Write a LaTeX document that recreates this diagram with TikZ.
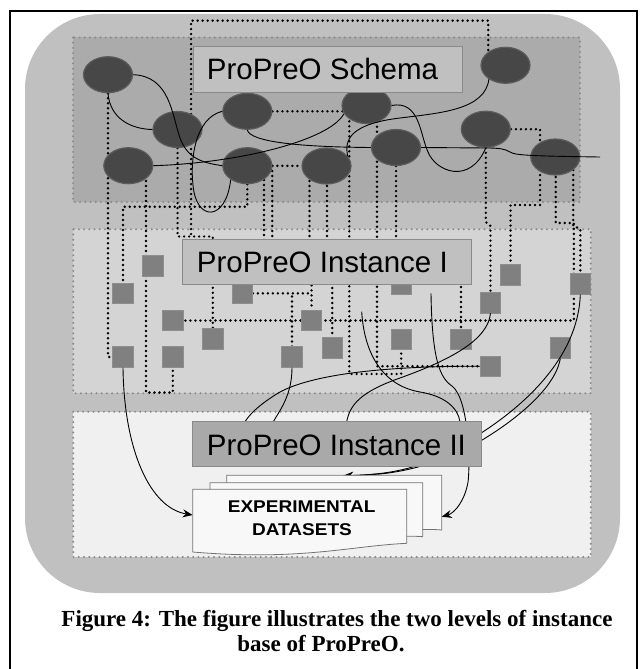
\documentclass[tikz,border=0pt]{standalone}
\usepackage{fontspec}
\setmainfont{Liberation Serif}
\setsansfont{Liberation Sans}
\usetikzlibrary{shapes.geometric,arrows.meta,calc}
\pgfdeclarelayer{bg}
\pgfdeclarelayer{dots}
\pgfdeclarelayer{curves}
\pgfdeclarelayer{top}
\pgfsetlayers{bg,dots,main,curves,top}
\definecolor{outerg}{HTML}{C0C0C0}
\definecolor{schemag}{HTML}{ABABAB}
\definecolor{insta}{HTML}{D4D4D4}
\definecolor{instb}{HTML}{F0F0F0}
\definecolor{ellg}{HTML}{474747}
\definecolor{ellrim}{HTML}{5C5C5C}
\definecolor{sqg}{HTML}{808080}
\definecolor{sqrim}{HTML}{8E8E8E}
\definecolor{labg}{HTML}{C0C0C0}
\definecolor{labgb}{HTML}{A9A9A9}
\definecolor{rimg}{HTML}{8A8A8A}
\definecolor{pageg}{HTML}{F8F8F8}
\begin{document}
\begin{tikzpicture}[x=1pt,y=-1pt,
 ell/.style={ellipse, fill=ellg, draw=ellrim, line width=1.2pt, minimum width=49pt, minimum height=36pt, inner sep=0pt},
 sq/.style={rectangle, fill=sqg, draw=sqrim, line width=0.6pt, minimum size=20.5pt, inner sep=0pt},
 layerbox/.style={draw=rimg, line width=2.2pt, dash pattern=on 0pt off 5.2pt, line cap=round},
 dl/.style={black, line width=2.7pt, dash pattern=on 0pt off 5pt, line cap=round},
 cv/.style={black, line width=0.9pt},
 labbox/.style={rectangle, draw=rimg, line width=1pt, inner sep=0pt, minimum height=45pt},
 labtext/.style={font=\sffamily\fontsize{29.5}{30}\selectfont, inner sep=0pt},
 dstext/.style={font=\sffamily\bfseries\fontsize{17}{20}\selectfont, inner sep=0pt},
 captext/.style={font=\bfseries\fontsize{23}{26}\selectfont, inner sep=0pt},
 tip/.style={-{Stealth[length=10pt,width=8pt]}},
 docpage/.style={fill=pageg, draw=black!55, line width=0.8pt}
]
\useasboundingbox (0,0) rectangle (642,669);

\begin{pgfonlayer}{bg}
\fill[outerg, rounded corners=75pt] (25,14) rectangle (620,593);
\path[fill=schemag, layerbox] (73,37.5) rectangle (580,202);
\path[fill=insta, layerbox] (73.3,229.3) rectangle (590.7,393.3);
\path[fill=instb, layerbox] (73.3,411.7) rectangle (590.7,557);
\draw[line width=2pt] (9.5,669) -- (9.5,11.5) -- (636.5,11.5) -- (636.5,669);
\end{pgfonlayer}

% schema ellipses
\node[ell] (e1) at (108,74.7) {};
\node[ell] (e2) at (177.5,129.5) {};
\node[ell] (e3) at (247.3,111.3) {};
\node[ell] (e4) at (128.3,165.7) {};
\node[ell] (e5) at (247.3,165.7) {};
\node[ell] (e6) at (326.5,166) {};
\node[ell] (e7) at (366.5,105.5) {};
\node[ell] (e8) at (505.5,65.3) {};
\node[ell] (e9) at (485.8,129.2) {};
\node[ell] (e10) at (396,147.5) {};
\node[ell] (e11) at (555.3,157) {};

% instance squares
\node[sq] (s1) at (153,265.8) {};
\node[sq] (s2) at (123,293.3) {};
\node[sq] (s3) at (242.3,293.3) {};
\node[sq] (s4) at (172.8,320.5) {};
\node[sq] (s5) at (212.8,339) {};
\node[sq] (s6) at (311.5,320.5) {};
\node[sq] (s7) at (123,357) {};
\node[sq] (s8) at (172.8,357) {};
\node[sq] (s9) at (292,357) {};
\node[sq] (s11) at (332.2,348) {};
\node[sq] (s12) at (401.2,284) {};
\node[sq] (s13) at (401.2,339.2) {};
\node[sq] (s14) at (461,339.2) {};
\node[sq] (s15) at (490.5,302.7) {};
\node[sq] (s16) at (510.5,275) {};
\node[sq] (s17) at (580.3,284) {};
\node[sq] (s18) at (560.3,348) {};
\node[sq] (s19) at (490.5,366.2) {};

\coordinate (c6end) at (600,157);
\coordinate (k5s) at (361.7,311.7);
\coordinate (k6s) at (431,293.3);
\coordinate (i2a) at (273.3,421.7);
\coordinate (i2b) at (245,421.7);
\coordinate (i2c) at (346.7,421.7);
\coordinate (i2d) at (460,421.7);
\coordinate (dsl) at (192.7,515);
\coordinate (dsr) at (441.7,516.7);
\coordinate (dst) at (343.3,475.6);

% dotted links
\begin{pgfonlayer}{dots}
\draw[dl] (e1) -- (e1 |- s7) -- (s7);
\draw[dl] (e5) -- (e5 |- 0,206.7) -- (s2 |- 0,206.7) -- (s2);
\draw[dl] (146,166) -- (146,392.5) -- (s8 |- 0,392.5) -- (s8);
\draw[dl] (e2) -- (e2 |- 0,236.5) -- (s5 |- 0,236.5) -- (s5);
\draw[dl] (488.3,65) -- (488.3,20.7) -- (191,20.7) -- (191,236.5);
\draw[dl] (555.7,157) -- (555.7,223) -- (573.8,223) -- (573.8,320.5) -- (s4);
\draw[dl] (573.3,160) -- (573.3,226) -- (580.3,229) -- (s17);
\draw[dl] (e9) -- (540,129.2) -- (540,205) -- (510.5,205) -- (s16);
\draw[dl] (e9) -- (485.8,222) -- (490.5,226) -- (s15);
\draw[dl] (e10) -- (396,262) -- (s12);
\draw[dl] (e3) -- (377,111.3) -- (377,366.2) -- (s19);
\draw[dl] (349.3,111.3) -- (349.3,374) -- (401.2,374) -- (s13);
\draw[dl] (327,166) -- (327,260) -- (332.2,263) -- (s11);
\draw[dl] (309.5,166) -- (309.5,262) -- (311.5,265) -- (s6);
\draw[dl] (s3) -- (311.5,293.3);
\draw[dl] (s9) -- (292,293.3);
\draw[dl] (e5) -- (e6);
\draw[dl] (264,170) -- (264,250);
\draw[dl] (272.3,166) -- (272.3,250);
\draw[dl] (461,262) -- (s14);
\end{pgfonlayer}

% solid curves
\begin{pgfonlayer}{curves}
\draw[cv] (e1.east) .. controls (170,76) and (172,115) .. (180,138) .. controls (188,160) and (205,163) .. (e5.west);
\draw[cv] (e1.south) .. controls (110,118) and (130,129) .. (e2.west);
\draw[cv] (e3.west) .. controls (195,118) and (190,160) .. (193,185) .. controls (196,222) and (226,222) .. (e5.220);
\draw[cv] (e4.east) .. controls (240,163) and (330,140) .. (e7.200);
\draw[cv] (e3.south) .. controls (250,142) and (300,147) .. (e10.west);
\draw[cv] (e10.east) -- (486,148) .. controls (500,148) and (505,149) .. (510,152) .. controls (515,155) and (525,156) .. (c6end);
\draw[cv] (e7.east) .. controls (420,100) and (420,135) .. (428,152) .. controls (436,172) and (470,185) .. (e9.south);
\draw[cv] (e8.220) .. controls (485,110) and (440,113) .. (400,118) .. controls (350,124) and (344,140) .. (e6.25);

\draw[cv,tip] (s7.south) .. controls (124,450) and (150,508) .. (dsl);
\draw[cv] (s9.south) .. controls (292,395) and (280,410) .. (i2a);
\draw[cv] (s19.west) .. controls (400,366) and (310,372) .. (275,395) .. controls (258,406) and (250,414) .. (i2b);
\draw[cv] (s15.south) .. controls (488,340) and (450,360) .. (400,378) .. controls (360,392) and (350,405) .. (i2c);
\draw[cv] (k5s) .. controls (364,350) and (380,385) .. (420,392) .. controls (445,396) and (458,408) .. (i2d);
\draw[cv,tip] (k6s) .. controls (432,360) and (440,378) .. (452,386) .. controls (470,400) and (470,470) .. (468,482) .. controls (465,500) and (455,513) .. (dsr);
\draw[cv,tip] (s17.south) .. controls (578,360) and (520,410) .. (470,440) .. controls (440,460) and (410,470) .. (380,473.5) .. controls (365,475) and (355,475.6) .. (dst);
\draw[cv] (s18.south) .. controls (555,390) and (510,425) .. (470,447) .. controls (440,462) and (410,471) .. (380,474) .. controls (365,475) and (355,475.6) .. (dst);
\end{pgfonlayer}

% labels and datasets
\begin{pgfonlayer}{top}
\node[labbox, fill=labg, minimum width=269pt] (lschema) at (327.5,69.5) {};
\node[labtext, anchor=base west] (tschema) at (206.7,80) {ProPreO Schema};
\node[labbox, fill=labg, minimum width=289pt, minimum height=45.3pt] (linsta) at (326.8,261.7) {};
\node[labtext, anchor=base west] (tinsta) at (196.7,272.7) {ProPreO Instance I};
\node[labbox, fill=labgb, minimum width=288.3pt] (linstb) at (336.9,444.2) {};
\node[labtext, anchor=base west] (tinstb) at (206.7,455) {ProPreO Instance II};

\path[docpage] (226.7,475.3) -- (441.7,475.3) -- (441.7,530) .. controls (400,526) and (320,546) .. (226.7,538) -- cycle;
\path[docpage] (210,482.7) -- (422.7,482.7) -- (422.7,536.7) .. controls (380,533) and (300,552) .. (210,545) -- cycle;
\path[docpage] (192.7,489.3) -- (406.7,489.3) -- (406.7,543.3) .. controls (350,546) and (300,561) .. (192.7,552) -- cycle;
\node[dstext, anchor=base] (dsa) at (301.7,512.7) {\scalebox{1.12}[1]{EXPERIMENTAL}};
\node[dstext, anchor=base] (dsb) at (302,535.7) {\scalebox{1.12}[1]{DATASETS}};
\end{pgfonlayer}

\node[captext, anchor=base] (capa) at (337,626) {Figure 4: The figure illustrates the two levels of instance};
\node[captext, anchor=base] (capb) at (321,651) {base of ProPreO.};
\end{tikzpicture}
\end{document}
